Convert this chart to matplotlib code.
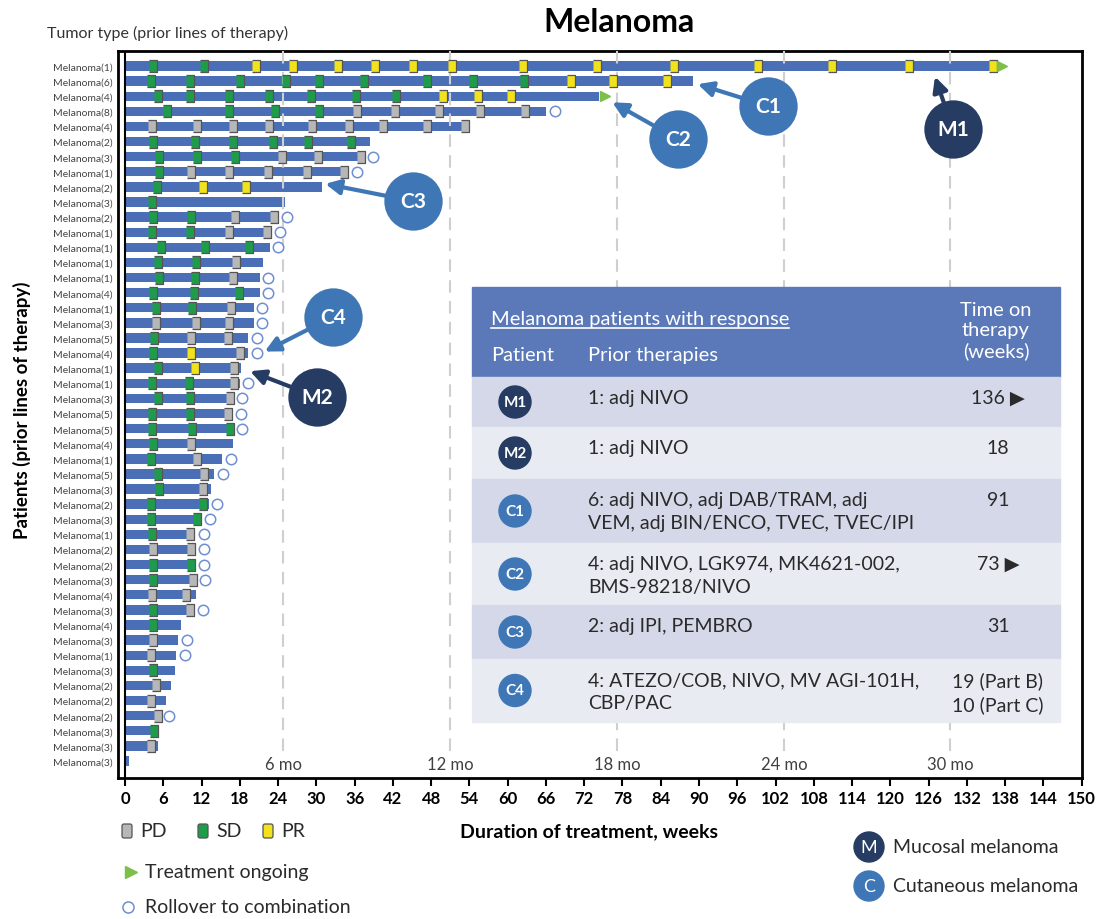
import matplotlib
matplotlib.use("Agg")
import matplotlib.pyplot as plt
from matplotlib.patches import Rectangle, Circle, FancyBboxPatch
import numpy as np

plt.rcParams["font.family"] = ["Lato", "DejaVu Sans"]

# ── Data ────────────────────────────────────────────────────────────────────
PRIOR_LINES = [1, 6, 4, 8, 4, 2, 3, 1, 2, 3,
               2, 1, 1, 1, 1, 4, 1, 3, 5, 4, 1, 1,
               3, 5, 5, 4, 1, 5, 3, 2, 3, 1, 2, 2,
               3, 4, 3, 4, 3, 1, 3, 2, 2, 2, 3, 3, 3]

DURATION = [136.5, 89.1, 74.3, 66.0, 54.0, 38.4, 37.6, 35.0, 30.9, 25.1,
            24.0, 23.0, 22.7, 21.7, 21.1, 21.1, 20.2, 20.2, 19.3, 19.3, 18.2, 18.0,
            17.0, 16.9, 17.0, 16.9, 15.2, 14.0, 13.5, 13.1, 11.9, 11.0, 11.0, 11.0,
            11.2, 11.1, 10.8, 8.8, 8.3, 8.0, 7.8, 7.2, 6.4, 5.6, 5.4, 5.1, 0.7]

# assessment weeks per patient, and response at each (P = PD, S = SD, R = PR)
ASSESS_WEEKS = [
    [4.4, 12.4, 20.5, 26.3, 33.4, 39.2, 45.2, 51.3, 62.4, 74.0, 86.1, 99.2, 110.9, 123.0, 136.1],
    [4.1, 10.2, 18.0, 25.2, 30.4, 37.4, 47.3, 54.6, 62.6, 69.9, 76.5, 85.0],
    [5.2, 10.2, 16.3, 22.6, 29.2, 36.2, 42.5, 49.9, 55.3, 60.5],
    [6.6, 16.3, 23.5, 30.4, 36.4, 42.3, 49.2, 55.7, 62.7],
    [4.2, 11.3, 16.9, 22.6, 29.3, 35.1, 40.5, 47.3, 53.3],
    [4.4, 11.0, 16.9, 23.2, 28.7, 35.4],
    [5.3, 11.3, 17.2, 24.6, 30.3, 37.0],
    [5.3, 10.3, 16.3, 22.4, 28.5, 34.3],
    [5.0, 12.2, 19.0],
    [4.2],
    [4.4, 10.3, 17.2, 23.4],
    [4.2, 10.2, 16.3, 22.2],
    [5.6, 12.5, 19.5],
    [5.1, 11.2, 17.4],
    [5.3, 11.0, 17.0],
    [4.4, 10.8, 17.9],
    [4.8, 10.5, 16.6],
    [4.8, 11.1, 16.3],
    [4.5, 10.3, 16.2],
    [4.4, 10.3, 18.1],
    [5.1, 11.0, 17.1],
    [4.2, 10.0, 17.1],
    [5.2, 10.2, 16.5],
    [4.3, 10.2, 16.2],
    [4.2, 10.5, 16.4],
    [4.4, 10.3],
    [4.1, 11.3],
    [5.1, 12.4],
    [5.3, 12.2],
    [4.1, 12.3],
    [4.1, 11.3],
    [4.2, 10.2],
    [4.4, 10.3],
    [4.4, 10.3],
    [4.4, 10.7],
    [4.3, 9.6],
    [4.4, 10.2],
    [4.4],
    [4.4],
    [4.1],
    [4.4],
    [4.8],
    [4.1],
    [5.1],
    [4.6],
    [4.1],
    [],
]
ASSESS_RESP = [
    "SSRRRRRRRRRRRRR", "SSSSSSSSSRRR", "SSSSSSSRRR", "SSSSPPPPP", "PPPPPPPPP",
    "SSSSSS", "SSSPPP", "SPPPPP", "SRR", "S",
    "SSPP", "SSPP", "SSS", "SSP", "SSP", "SSS", "SSP", "PPP", "SPP", "SRP", "SRP", "SSP",
    "SSP", "SSP", "SSS", "SP", "SP", "SP", "SP", "SS", "SS", "SP", "PP", "SS",
    "SP", "PP", "SP", "S", "P", "P", "S", "P", "P", "P", "S", "P", "",
]

ONGOING_ROWS = [0, 2]
ROLLOVER_ROWS = [3, 6, 7, 10, 11, 12, 14, 15, 16, 17, 18, 19, 21, 22, 23, 24,
                 26, 27, 29, 30, 31, 32, 33, 34, 36, 38, 39, 43]

MONTH_LABELS = ["6 mo", "12 mo", "18 mo", "24 mo", "30 mo"]
MONTH_WEEKS = [24.8, 51.0, 77.2, 103.3, 129.4]

TABLE_PATIENTS = ["M1", "M2", "C1", "C2", "C3", "C4"]
TABLE_PRIOR = [
    "1: adj NIVO",
    "1: adj NIVO",
    "6: adj NIVO, adj DAB/TRAM, adj\nVEM, adj BIN/ENCO, TVEC, TVEC/IPI",
    "4: adj NIVO, LGK974, MK4621-002,\nBMS-98218/NIVO",
    "2: adj IPI, PEMBRO",
    "4: ATEZO/COB, NIVO, MV AGI-101H,\nCBP/PAC",
]
TABLE_TIME = ["136 \u25B6", "18", "91", "73 \u25B6", "31", "19 (Part B)\n10 (Part C)"]

# ── Styles / layout ─────────────────────────────────────────────────────────
BAR_BLUE = "#4b6fb6"
RESP_COLORS = {"P": "#b7b7b7", "S": "#1f9c4a", "R": "#f2e21c"}
ONGOING_GREEN = "#7cbf4b"
ROLL_BLUE = "#6f8fd0"
NAVY = "#263c63"
CBLUE = "#3f77b6"
HDR_BLUE = "#5b79b9"
ROW_FILLS = ["#d5d8e8", "#e9ebf3"]
BADGE_COLORS = {"M": NAVY, "C": CBLUE}
TXT = "#2a2a2a"

# label, badge centre (week, row), arrow tip (week, row)
CALLOUTS = [
    ("M1", (129.8, 4.2), (127.0, 0.7)),
    ("C1", (100.8, 2.65), (89.8, 1.2)),
    ("C2", (86.7, 4.85), (76.4, 2.4)),
    ("C3", (45.2, 8.95), (31.4, 7.8)),
    ("C4", (32.6, 16.6), (21.9, 18.9)),
    ("M2", (30.1, 21.9), (19.6, 20.2)),
]

W, H = 1103, 920
fig = plt.figure(figsize=(W / 100, H / 100), dpi=100)


def fx(x):
    return x / W


def fy(y):
    return 1 - y / H


ax = fig.add_axes([fx(118), fy(779), fx(1081.7) - fx(118), fy(52) - fy(779)])
rows = np.arange(len(DURATION))

ax.barh(rows, DURATION, height=0.62, color=BAR_BLUE, zorder=2)
for wk in MONTH_WEEKS:
    ax.plot([wk, wk], [-1, 45.4], ls=(0, (6, 4)), color="#cfcfcf", lw=1.5, zorder=3)
for wk, lab in zip(MONTH_WEEKS, MONTH_LABELS):
    ax.text(wk, 46.2, lab, ha="center", va="center", fontsize=12, color="#404040")

box = [(-0.7, -1), (0.7, -1), (0.7, 1), (-0.7, 1)]
for r, (weeks, resp) in enumerate(zip(ASSESS_WEEKS, ASSESS_RESP)):
    for wk, code in zip(weeks, resp):
        ax.plot(wk, r, marker=box, ms=8, mfc=RESP_COLORS[code], mec="#555555",
                mew=0.9, zorder=4)

for r in ROLLOVER_ROWS:
    ax.plot(DURATION[r] + 1.35, r, "o", ms=7.5, mfc="white", mec=ROLL_BLUE, mew=1.1, zorder=4)
for r in ONGOING_ROWS:
    ax.plot(DURATION[r] + 1.0, r, marker=">", ms=7, color=ONGOING_GREEN, zorder=4)

for lab, centre, tip in CALLOUTS:
    col = BADGE_COLORS[lab[0]]
    ax.annotate("", xy=tip, xytext=centre,
                arrowprops=dict(arrowstyle="-|>", lw=3, color=col, shrinkA=15,
                                shrinkB=0, mutation_scale=22), zorder=6)
    ax.plot(*centre, "o", ms=42, color=col, mew=0, zorder=7)
    ax.text(*centre, lab, ha="center", va="center", color="white", fontsize=15,
            fontweight="bold", zorder=8)

ax.axvline(0, color="black", lw=1.5, zorder=5)
ax.set_xlim(-1.1, 150)
ax.set_ylim(47.125, -0.993)
ax.set_xticks(range(0, 151, 6))
ax.tick_params(axis="x", length=6, width=1.5, labelsize=12, pad=3)
for t in ax.get_xticklabels():
    t.set_fontweight("bold")
ax.set_yticks(rows)
ax.set_yticklabels([f"Melanoma({n})" for n in PRIOR_LINES], fontsize=7.5, color="#444444")
ax.tick_params(axis="y", length=0, pad=4)
for sp in ax.spines.values():
    sp.set_linewidth(2)

# ── Overlay in pixel coordinates (table, legend, titles) ───────────────────
lay = fig.add_axes([0, 0, 1, 1], zorder=5)
lay.set_xlim(0, W)
lay.set_ylim(H, 0)
lay.axis("off")

lay.text(619, 22, "Melanoma", ha="center", va="center", fontsize=23, fontweight="bold")
lay.text(47, 33, "Tumor type (prior lines of therapy)", ha="left", va="center",
         fontsize=11.5, color="#333333")
lay.text(589, 832, "Duration of treatment, weeks", ha="center", va="center",
         fontsize=14, fontweight="bold")
lay.text(22, 410, "Patients (prior lines of therapy)", ha="center", va="center",
         rotation=90, fontsize=13.5, fontweight="bold")

# table
lay.add_patch(Rectangle((472, 288), 588, 90, color=HDR_BLUE, zorder=1))
row_edges = [378, 428, 480, 544, 606, 660, 723]
hdr = lay.text(491, 320, "Melanoma patients with response", ha="left", va="center",
               fontsize=14.5, color="white", zorder=2)
lay.text(491, 356, "Patient", ha="left", va="center", fontsize=14.5, color="white", zorder=2)
lay.text(588, 356, "Prior therapies", ha="left", va="center", fontsize=14.5,
         color="white", zorder=2)
lay.text(996, 331, "Time on\ntherapy\n(weeks)", ha="center", va="center",
         fontsize=14.5, color="white", linespacing=1.22, zorder=2)

for k, (pat, prior, tm) in enumerate(zip(TABLE_PATIENTS, TABLE_PRIOR, TABLE_TIME)):
    top, bot = row_edges[k], row_edges[k + 1]
    lay.add_patch(Rectangle((472, top), 588, bot - top, color=ROW_FILLS[k % 2], zorder=1))
    yc = (top + bot) / 2
    lay.add_patch(Circle((515, yc), 16, color=BADGE_COLORS[pat[0]], zorder=2))
    lay.text(515, yc, pat, ha="center", va="center", color="white", fontsize=11,
             fontweight="bold", zorder=3)
    lay.text(588, top + 12, prior, ha="left", va="top", fontsize=14,
             color=TXT, linespacing=1.45, zorder=3)
    lay.text(998, top + 12, tm, ha="center", va="top", fontsize=14,
             color=TXT, linespacing=1.45, zorder=3)

# underline header title
fig.canvas.draw()
bb = hdr.get_window_extent().transformed(lay.transData.inverted())
lay.plot([bb.x0, bb.x1], [bb.y0 + 1, bb.y0 + 1], color="white", lw=1.2, zorder=3)

# legend
for (x, code, lab) in [(127, "P", "PD"), (203, "S", "SD"), (268, "R", "PR")]:
    lay.add_patch(FancyBboxPatch((x - 5, 825), 10, 14, boxstyle="round,pad=0,rounding_size=2",
                                 fc=RESP_COLORS[code], ec="#555555", lw=0.9))
    lay.text(x + 13, 832, lab, ha="left", va="center", fontsize=14, color=TXT)
lay.plot(131, 873, marker=">", ms=9, color=ONGOING_GREEN)
lay.text(145, 873, "Treatment ongoing", ha="left", va="center", fontsize=14, color=TXT)
lay.plot(128, 908, "o", ms=8, mfc="white", mec=ROLL_BLUE, mew=1.1)
lay.text(145, 908, "Rollover to combination", ha="left", va="center", fontsize=14,
         color=TXT)
for (y, key, lab) in [(848, "M", "Mucosal melanoma"), (887, "C", "Cutaneous melanoma")]:
    lay.add_patch(Circle((869, y), 15, color=BADGE_COLORS[key]))
    lay.text(869, y, key, ha="center", va="center", color="white", fontsize=13)
    lay.text(893, y, lab, ha="left", va="center", fontsize=14, color=TXT)

fig.savefig("out.png", dpi=100)
